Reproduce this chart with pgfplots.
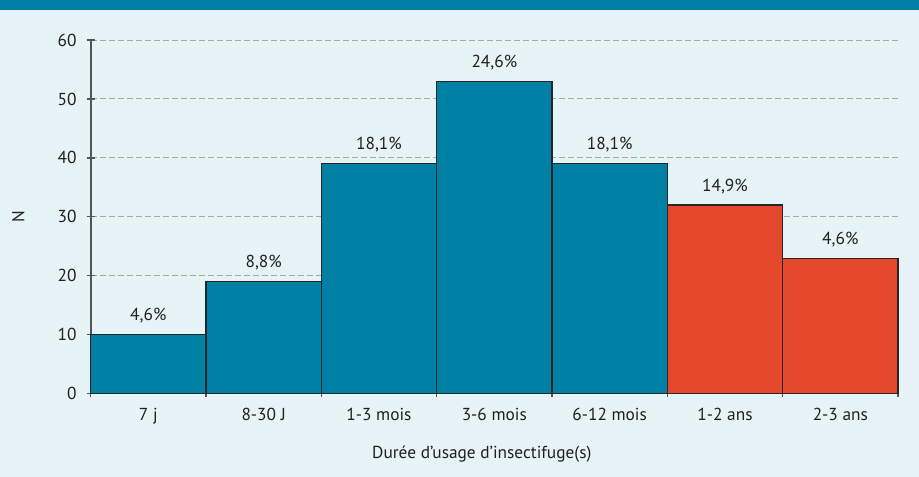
\documentclass[border=0pt]{standalone}
\usepackage{fontspec}
\setmainfont{PT Sans}
\usepackage{pgfplots}
\pgfplotsset{compat=1.18}
\definecolor{bgc}{HTML}{E6F3F7}
\definecolor{band}{HTML}{0080A6}
\definecolor{tealb}{HTML}{0080A4}
\definecolor{redb}{HTML}{E5472D}
\definecolor{axc}{HTML}{555555}
\definecolor{txt}{HTML}{231F20}
\definecolor{gridc}{HTML}{A8A8A8}
\begin{document}
\begin{tikzpicture}
\fill[bgc] (0pt,0pt) rectangle (689.25pt,357.75pt);
\fill[band] (0pt,350.6pt) rectangle (689.25pt,357.75pt);
\begin{axis}[
  at={(68.0pt,62.6pt)}, anchor=south west,
  scale only axis, width=605.5pt, height=265.1pt,
  xmin=-0.5, xmax=6.5, ymin=0, ymax=60,
  axis x line*=bottom, axis y line*=left,
  axis line style={-, draw=axc, line width=1.4pt},
  ytick={0,10,...,60},
  xtick={0,...,6},
  xticklabels={7 j, 8-30 J, 1-3 mois, 3-6 mois, 6-12 mois, 1-2 ans, 2-3 ans},
  minor xtick={-0.5,0.5,...,6.5},
  major x tick style={draw=none},
  tick align=center,
  major tick length=6pt,
  minor tick length=5pt,
  tick style={draw=axc, line width=1pt},
  ymajorgrids,
  grid style={draw=gridc, line width=0.75pt, dash pattern=on 4.5pt off 2.25pt},
  ticklabel style={font=\fontsize{13}{15}\selectfont, text=txt},
  xticklabel style={yshift=-4.5pt},
  yticklabel style={xshift=-4pt},
  /pgf/number format/assume math mode=true,
  clip=false,
]
\addplot[ybar, bar width=1, bar shift=0pt, fill=tealb, draw=black!85, line width=0.8pt,
  nodes near coords, point meta=explicit symbolic,
  nodes near coords style={anchor=base, yshift=10.5pt, font=\fontsize{13}{15}\selectfont, text=txt}]
  coordinates {(0,10)[4,6\%] (1,19)[8,8\%] (2,39)[18,1\%] (3,53)[24,6\%] (4,39)[18,1\%]};
\addplot[ybar, bar width=1, bar shift=0pt, fill=redb, draw=black!85, line width=0.8pt,
  nodes near coords, point meta=explicit symbolic,
  nodes near coords style={anchor=base, yshift=10.5pt, font=\fontsize{13}{15}\selectfont, text=txt}]
  coordinates {(5,32)[14,9\%] (6,23)[4,6\%]};
\node[rotate=90, anchor=center, font=\fontsize{13}{15}\selectfont, text=txt] at ([xshift=-54.3pt]rel axis cs:0,0.5) {N};
\node[anchor=base, font=\fontsize{13}{15}\selectfont, text=txt] at ([yshift=-48.5pt, xshift=-9.4pt]rel axis cs:0.5,0) {Durée d’usage d’insectifuge(s)};
\end{axis}
\pgfresetboundingbox
\path[use as bounding box] (0pt,0pt) rectangle (689.25pt,357.75pt);
\end{tikzpicture}
\end{document}
